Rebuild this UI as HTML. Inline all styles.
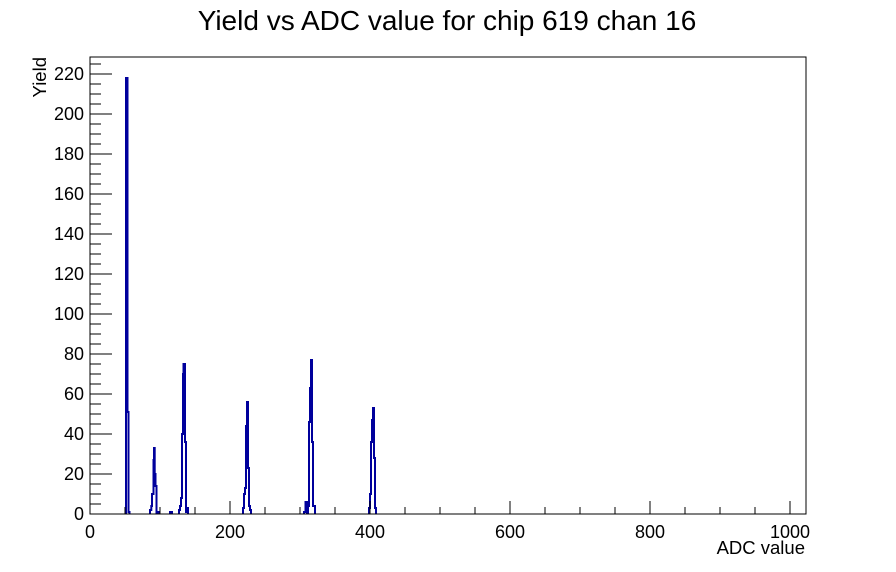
<!DOCTYPE html>
<html><head><meta charset="utf-8"><style>body{margin:0;background:#fff}svg{display:block}text{font-family:"Liberation Sans",sans-serif}</style></head>
<body>
<svg width="896" height="572" xmlns="http://www.w3.org/2000/svg">
<rect width="896" height="572" fill="#fff"/>
<text x="447" y="30" font-size="28" text-anchor="middle">Yield vs ADC value for chip 619 chan 16</text>
<path fill="none" stroke="#00009c" stroke-width="2" d="M126,514 V78 H127.5 V412 H128.5 V512 H129.5 V514
M150,514 V510 H151.3 V506 H152 V494 H153.5 V460 H154 V448 H154.7 V474 H155.5 V486 H156.5 V514 M157.5,514 V512 H159 V514
M170,514 V512 H172 V514
M179,514 V510 H180 V506 H181 V498 H182 V434 H183 V374 H183.5 V364 H185 V442 H186 V512 H187 V508 H188 V514
M243,514 V508 H244 V494 H245 V488 H246 V426 H247 V402 H248 V468 H249 V506 H250 V510 H251 V514
M304,514 V512 H305.5 V502 H307 V514 M308,514 V506 H309 V422 H310 V388 H311 V360 H312 V442 H313 V506 H314 V506 H315 V514
M369,514 V508 H370 V494 H371 V442 H372 V420 H373 V408 H374 V458 H375 V508 H376 V514"/>
<rect x="90" y="57" width="716" height="457" fill="none" stroke="#000" stroke-width="1"/>
<g stroke="#000" stroke-width="1" id="ticks"></g>
<g font-size="18" text-anchor="end" id="ylab"></g>
<g font-size="18" text-anchor="middle" id="xlab"></g>
<text x="805" y="554" font-size="18.5" text-anchor="end">ADC value</text>
<text transform="translate(46,57) rotate(-90)" font-size="18.5" text-anchor="end">Yield</text>
<script>
var t=document.getElementById('ticks'),yl=document.getElementById('ylab'),xl=document.getElementById('xlab'),n='http://www.w3.org/2000/svg';
function L(x1,y1,x2,y2){var l=document.createElementNS(n,'line');l.setAttribute('x1',x1);l.setAttribute('y1',y1);l.setAttribute('x2',x2);l.setAttribute('y2',y2);t.appendChild(l);}
function T(g,x,y,s){var e=document.createElementNS(n,'text');e.setAttribute('x',x);e.setAttribute('y',y);e.textContent=s;g.appendChild(e);}
for(var v=0;v<=225;v+=5){var y=514-v*2;var maj=v%20==0;L(90,y,maj?112:101,y);if(maj)T(yl,84,y+6,v);}
for(var v=0;v<=1000;v+=50){var x=90+v*0.7;var maj=v%200==0;L(x,514,x,maj?501:507);if(maj)T(xl,x,538,v);}
</script>
</svg>
</body></html>
